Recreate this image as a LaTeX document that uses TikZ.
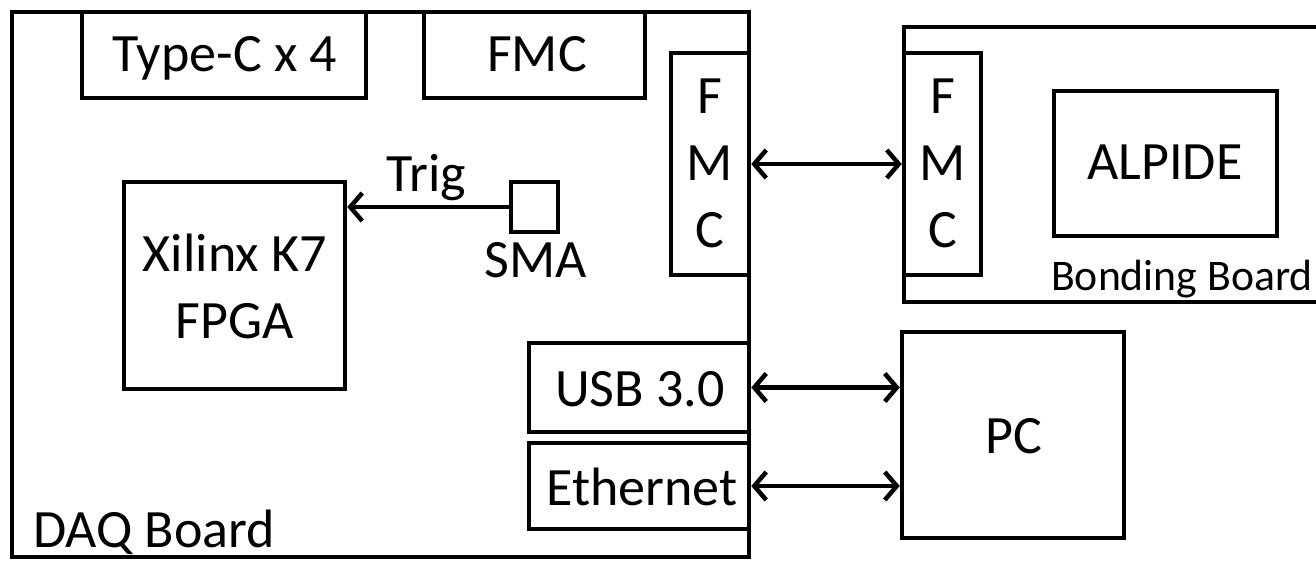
\documentclass[tikz,border=0pt]{standalone}
\usepackage{fontspec}
\setmainfont{Carlito}
\usetikzlibrary{arrows.meta}
\begin{document}
\begin{tikzpicture}[x=1pt,y=-1pt,
  box/.style={draw, line width=4.5pt, inner sep=0pt},
  big/.style={font=\fontsize{54}{67}\selectfont, inner sep=0pt, align=center},
  small/.style={font=\fontsize{43.7}{52}\selectfont, inner sep=0pt},
  tipb/.tip={Straight Barb[length=12pt,width=28pt]},
  onearrow/.style={line width=4.5pt, -tipb},
  twoarrow/.style={line width=4.5pt, tipb-tipb}]
\useasboundingbox (0,0) rectangle (1316,561);
\clip (0,0) rectangle (1316,561);
% DAQ board
\node[box, minimum width=737pt, minimum height=545pt] (daq) at (380.5,284.5) {};
\node[box, minimum width=284pt, minimum height=86pt] (typec) at (224,55) {};
\node[box, minimum width=221pt, minimum height=86pt] (fmctop) at (534.5,55) {};
\node[box, minimum width=78pt, minimum height=222pt] (fmcL) at (710,164) {};
\node[box, minimum width=221pt, minimum height=207pt] (fpga) at (234.5,285.5) {};
\node[box, minimum width=47pt, minimum height=50pt] (sma) at (534.5,207) {};
\node[box, minimum width=220pt, minimum height=89pt] (usb) at (639,387.5) {};
\node[box, minimum width=220pt, minimum height=86pt] (eth) at (639,486) {};
% Bonding board
\node[box, minimum width=416pt, minimum height=275pt] (bond) at (1112,164.5) {};
\node[box, minimum width=77pt, minimum height=222pt] (fmcR) at (942.5,164) {};
\node[box, minimum width=223pt, minimum height=145pt] (alpide) at (1165.5,163.5) {};
% PC
\node[box, minimum width=222pt, minimum height=206pt] (pc) at (1013,435) {};
% texts
\node[big, anchor=base] (typect) at (225,72) {Type-C x 4};
\node[big, anchor=base] (fmctopt) at (537,72) {FMC};
\node[big] (fmcLt) at (710,163) {F\\M\\C};
\node[big] (fmcRt) at (943,163) {F\\M\\C};
\node[big] (fpgat) at (235,286) {Xilinx K7\\FPGA};
\node[big, anchor=base] (trigt) at (426,192) {Trig};
\node[big, anchor=base] (smat) at (536,277) {SMA};
\node[big, anchor=base] (usbt) at (640,406) {USB 3.0};
\node[big, anchor=base] (etht) at (642,505) {Ethernet};
\node[big, anchor=base] (alpidet) at (1165,180) {ALPIDE};
\node[big, anchor=base] (pct) at (1014,453) {PC};
\node[big, anchor=base west] (daqt) at (33,547) {DAQ Board};
\node[small, anchor=base west] (bondt) at (1051,290) {Bonding Board};
% connectors
\draw[onearrow] (sma.west) -- (sma.west -| fpga.east);
\draw[twoarrow] (fmcL.east) -- (fmcR.west);
\draw[twoarrow] (usb.east) -- (usb.east -| pc.west);
\draw[twoarrow] (eth.east) -- (eth.east -| pc.west);
\end{tikzpicture}
\end{document}
